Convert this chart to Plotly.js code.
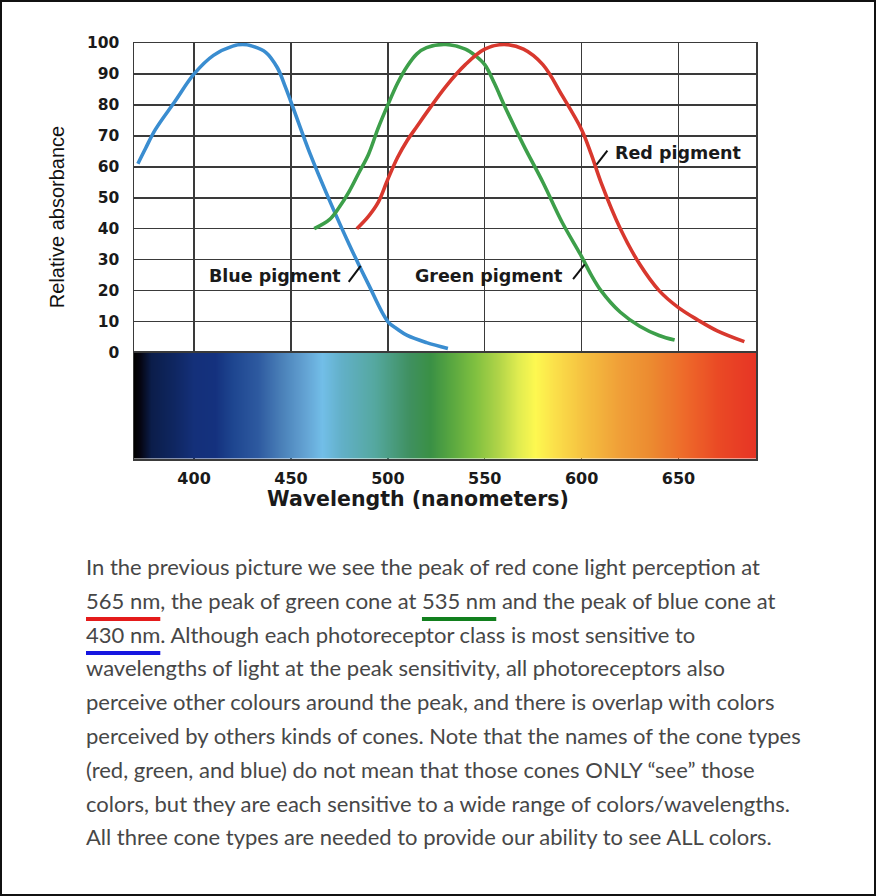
<!DOCTYPE html>
<html>
<head>
<meta charset="utf-8">
<script src="https://cdn.plot.ly/plotly-3.0.1.min.js"></script>
<style>
  html, body { margin: 0; padding: 0; background: #fff; }
  #frame { position: relative; width: 876px; height: 896px; box-sizing: border-box; border: 2px solid #111; overflow: hidden; background:#fff; }
  #chart { position: absolute; left: -2px; top: -2px; width: 876px; height: 530px; }
  #para { position: absolute; left: 84px; top: 548px; font-family: Lato, "Open Sans", sans-serif; font-size: 22px; line-height: 33.8px; color: #474747; white-space: nowrap; }
  .u { text-decoration: underline; text-decoration-thickness: 4px; text-underline-offset: 8px; text-decoration-skip-ink: none; }
  .ur { text-decoration-color: #e41b1b; }
  .ug { text-decoration-color: #12801e; }
  .ub { text-decoration-color: #1616e0; }
</style>
</head>
<body>
<div id="frame">
  <div id="chart"></div>
  <div id="para">In the previous picture we see the peak of red cone light perception at<br><span class="u ur">565 nm</span>, the peak of green cone at <span class="u ug">535 nm</span> and the peak of blue cone at<br><span class="u ub">430 nm</span>. Although each photoreceptor class is most sensitive to<br>wavelengths of light at the peak sensitivity, all photoreceptors also<br>perceive other colours around the peak, and there is overlap with colors<br>perceived by others kinds of cones. Note that the names of the cone types<br>(red, green, and blue) do not mean that those cones ONLY “see” those<br>colors, but they are each sensitive to a wide range of colors/wavelengths.<br>All three cone types are needed to provide our ability to see ALL colors.</div>
</div>
<script>
// ---- data ----
const blueNm   = [371, 375, 380, 390, 400, 410, 420, 425, 430, 437, 443, 447, 450, 460, 470, 480, 490, 500, 505, 510, 520, 531];
const blueAbs  = [61, 66, 72, 81, 90, 96, 99, 99.5, 99, 97, 92, 86, 81, 64, 49, 35, 22, 10, 7.5, 5.5, 3.2, 1.3];

const greenNm  = [462, 470, 475, 480, 485, 490, 495, 500, 505, 510, 515, 520, 530, 540, 545, 550, 555, 560, 570, 580, 590, 600, 605, 610, 620, 630, 640, 648];
const greenAbs = [40, 43, 47, 52, 58, 64, 72.5, 80, 87, 92.5, 96.5, 98.5, 99.5, 98, 96, 93, 87, 80, 67, 55, 42, 31, 25, 20, 13, 8.5, 5.5, 4];

const redNm    = [484, 490, 495, 500, 505, 510, 515, 520, 530, 540, 550, 560, 570, 580, 590, 600, 605, 610, 620, 630, 640, 650, 660, 670, 684];
const redAbs   = [40, 44, 48.5, 56, 63, 68.5, 73, 77.5, 86, 93, 98, 99.5, 98, 93, 83, 72, 64, 55, 40, 28.5, 20, 14.5, 10.5, 7, 3.5];

// spectrum bar colour stops (wavelength, colour)
const specNm    = [369, 372, 378, 389, 400, 411, 420, 433, 445, 458, 466, 476, 493, 511, 522, 533, 545, 557, 567, 576, 586, 601, 619, 636, 653, 670, 690];
const specColor = ['#000000', '#050512', '#0b1d4a', '#0f2660', '#14307a', '#14317e', '#1e4690', '#2e5aa0', '#4a80b8', '#64a4d4', '#72bee8', '#62b0c8', '#55a8a0', '#3f9060', '#3a9045', '#5aa840', '#80c040', '#b0d448', '#e0ec50', '#fdf850', '#fbe04a', '#f5c040', '#f0a038', '#ec8a30', '#ee6a2a', '#ea4a25', '#e63425'];

const xTicks = [400, 450, 500, 550, 600, 650];
const yTicks = [0, 10, 20, 30, 40, 50, 60, 70, 80, 90, 100];

// pigment labels and their leader lines
const labelText = ['Blue pigment', 'Green pigment', 'Red pigment'];
const labelX    = [441.7, 552.2, 649.6];
const labelY    = [24.8, 24.8, 64.6];
const leadX0    = [479.8, 595.6, 607.7];
const leadY0    = [22.8, 23.7, 60.7];
const leadX1    = [486.0, 601.6, 613.3];
const leadY1    = [28.0, 28.5, 65.2];

// ---- build ----
const zMin = specNm[0], zMax = specNm[specNm.length - 1];
const colorscale = specNm.map((w, i) => [(w - zMin) / (zMax - zMin), specColor[i]]);

const lineStyle = (c) => ({ color: c, width: 3.6, shape: 'spline', smoothing: 1.0 });

const traces = [
  { type: 'heatmap', x: specNm, y: [0, 1], z: [specNm, specNm], zmin: zMin, zmax: zMax,
    colorscale: colorscale, zsmooth: 'best', showscale: false, hoverinfo: 'skip', xaxis: 'x', yaxis: 'y2' },
  { type: 'scatter', mode: 'lines', x: blueNm, y: blueAbs, line: lineStyle('#3a8dd0'), name: 'Blue pigment', xaxis: 'x', yaxis: 'y' },
  { type: 'scatter', mode: 'lines', x: greenNm, y: greenAbs, line: lineStyle('#3d9f4a'), name: 'Green pigment', xaxis: 'x', yaxis: 'y' },
  { type: 'scatter', mode: 'lines', x: redNm, y: redAbs, line: lineStyle('#d8382e'), name: 'Red pigment', xaxis: 'x', yaxis: 'y' }
];

const bold = 'DejaVu Sans, Verdana, sans-serif';
const annotations = labelText.map((t, i) => ({
  text: '<b>' + t + '</b>', x: labelX[i], y: labelY[i], xref: 'x', yref: 'y',
  showarrow: false, xanchor: 'center', yanchor: 'middle',
  font: { family: bold, size: 17.5, color: '#1a1a1a' }
}));
annotations.push({
  text: 'Relative absorbance', xref: 'paper', yref: 'paper', x: -0.124, y: 0.581,
  textangle: -90, showarrow: false, xanchor: 'center', yanchor: 'middle',
  font: { family: '"Liberation Sans Narrow", "Liberation Sans", Arial, sans-serif', size: 20, color: '#111' }
});
annotations.push({
  text: '<b>Wavelength (nanometers)</b>', xref: 'paper', yref: 'paper', x: 0.4566, y: -0.096,
  showarrow: false, xanchor: 'center', yanchor: 'middle',
  font: { family: bold, size: 20.5, color: '#1a1a1a' }
});

const shapes = leadX0.map((x0, i) => ({
  type: 'line', xref: 'x', yref: 'y', x0: x0, y0: leadY0[i], x1: leadX1[i], y1: leadY1[i],
  line: { color: '#111', width: 2 }
}));

const gridC = '#3a3a3a';
const layout = {
  width: 876, height: 530,
  margin: { l: 134, r: 120, t: 43, b: 71 },
  paper_bgcolor: '#fff', plot_bgcolor: '#fff',
  showlegend: false,
  xaxis: {
    range: [369, 690], anchor: 'y2', tickvals: xTicks, ticktext: xTicks.map(String),
    showgrid: true, gridcolor: gridC, gridwidth: 1.5, zeroline: false,
    showline: true, linecolor: gridC, linewidth: 1.5, mirror: 'all',
    ticks: '', ticklabelstandoff: 4,
    tickfont: { family: bold, size: 16, color: '#1a1a1a', weight: 'bold' }
  },
  yaxis: {
    domain: [0.256, 1], range: [0, 100], tickvals: yTicks, ticktext: yTicks.map(String),
    showgrid: true, gridcolor: gridC, gridwidth: 1.5, zeroline: false,
    showline: true, linecolor: gridC, linewidth: 1.5, mirror: true,
    ticks: '', ticklabelstandoff: 10,
    tickfont: { family: bold, size: 15.5, color: '#1a1a1a', weight: 'bold' }
  },
  yaxis2: {
    domain: [0, 0.256], range: [0, 1], showgrid: false, zeroline: false,
    showticklabels: false, ticks: '', showline: true, linecolor: gridC, linewidth: 1.5, mirror: true
  },
  annotations: annotations,
  shapes: shapes
};

Plotly.newPlot('chart', traces, layout, { staticPlot: true, displayModeBar: false });
</script>
</body>
</html>
